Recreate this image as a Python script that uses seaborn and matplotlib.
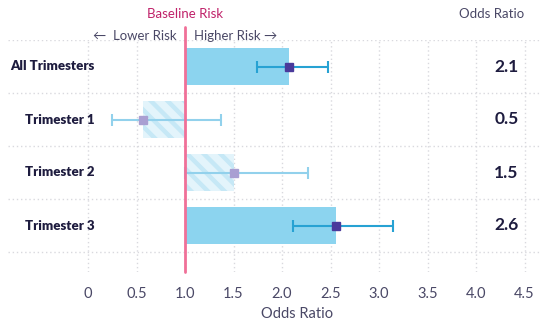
import matplotlib
matplotlib.use("Agg")
import matplotlib.pyplot as plt
import seaborn as sns
import pandas as pd
import numpy as np

# ---- data ----
categories = ["All Trimesters", "Trimester 1", "Trimester 2", "Trimester 3"]
odds_ratio = [2.07, 0.57, 1.51, 2.56]
ci_low = [1.74, 0.25, 1.00, 2.11]
ci_high = [2.47, 1.37, 2.27, 3.14]
significant = [True, False, False, True]
value_labels = ["2.1", "0.5", "1.5", "2.6"]
x_ticks = [0, 0.5, 1.0, 1.5, 2.0, 2.5, 3.0, 3.5, 4.0, 4.5]
x_tick_labels = ["0", "0.5", "1.0", "1.5", "2.0", "2.5", "3.0", "3.5", "4.0", "4.5"]
baseline = 1.0

df = pd.DataFrame({"cat": categories, "or": odds_ratio, "lo": ci_low,
                   "hi": ci_high, "sig": significant})
df["delta"] = df["or"] - baseline

sns.set_theme(style="white")
plt.rcParams["font.family"] = ["Lato", "DejaVu Sans"]
plt.rcParams["hatch.linewidth"] = 3.2

TEXT = "#1e1c3f"
GRAYTXT = "#4a4866"

fig = plt.figure(figsize=(5.4, 3.22), dpi=100)
ax = fig.add_axes([8 / 540, 1 - 272 / 322, 532 / 540, 232 / 322])

solid = df[df["sig"]]
hatched = df[~df["sig"]]
sns.barplot(data=solid, y="cat", x="delta", order=categories, orient="h",
            color="#8cd4ef", saturation=1, width=0.68, left=baseline,
            linewidth=0, ax=ax, zorder=2)
sns.barplot(data=hatched, y="cat", x="delta", order=categories, orient="h",
            color="#e3f4fb", edgecolor="#c6e8f6", hatch="\\\\",
            saturation=1, width=0.68, left=baseline, linewidth=0, ax=ax,
            zorder=2)

ypos = {c: i for i, c in enumerate(categories)}
for _, r in df.iterrows():
    y = ypos[r["cat"]]
    ecol = "#27a2d3" if r["sig"] else "#92d1ec"
    mcol = "#4a3a9b" if r["sig"] else "#a99fd2"
    ax.errorbar([r["or"]], [y], xerr=[[r["or"] - r["lo"]], [r["hi"] - r["or"]]],
                fmt="none", ecolor=ecol, elinewidth=1.5, capsize=4.5,
                capthick=1.5, zorder=4)
    ax.plot([r["or"]], [y], marker="s", ms=5.5, color=mcol, mec=mcol,
            zorder=5, linestyle="none")

ax.set_xlim(-80 / 97, 452 / 97)
ax.set_ylim(3.5 + 20 / 53, -0.5)

# grid
for xv in x_ticks:
    ax.axvline(xv, color="#d9d9de", lw=1, ls=(0, (1, 2)), zorder=0)
for yv in [-0.5, 0.5, 1.5, 2.5, 3.5]:
    ax.axhline(yv, color="#d9d9de", lw=1, ls=(0, (1, 2)), zorder=0)

# baseline
ax.axvline(baseline, ymin=0, ymax=1 + 13 / 232, color="#f07098", lw=2,
           zorder=6, clip_on=False)

for s in ax.spines.values():
    s.set_visible(False)

ax.set_xticks(x_ticks)
ax.set_xticklabels(x_tick_labels, color=GRAYTXT, fontsize=10.5)
ax.tick_params(axis="x", length=0, pad=11)
ax.set_yticks([])
ax.set_ylabel("")
ax.set_xlabel("Odds Ratio", color=GRAYTXT, fontsize=10.5)
ax.xaxis.set_label_coords((297 - 8) / 532, -0.15)

# category labels
for c in categories:
    ax.text(0.07, ypos[c], c, ha="right", va="center", fontsize=9.5,
            fontweight="heavy", color=TEXT, zorder=7)
# value labels
for c, v in zip(categories, value_labels):
    ax.text(4.44, ypos[c], v, ha="right", va="center", fontsize=12.5,
            fontweight="bold", color=TEXT)

# header texts
ax.text(baseline, -0.5 - 26 / 53, "Baseline Risk", ha="center", va="center",
        fontsize=9.5, color="#c0226a", clip_on=False)
ax.text(baseline - 0.09, -0.5 - 4 / 53, "\u2190  Lower Risk", ha="right",
        va="center", fontsize=9.5, color=GRAYTXT, clip_on=False)
ax.text(baseline + 0.09, -0.5 - 4 / 53, "Higher Risk \u2192", ha="left",
        va="center", fontsize=9.5, color=GRAYTXT, clip_on=False)
ax.text(4.5, -0.5 - 26 / 53, "Odds Ratio", ha="right", va="center",
        fontsize=9.5, color=GRAYTXT, clip_on=False)

fig.savefig("out.png", dpi=100)
